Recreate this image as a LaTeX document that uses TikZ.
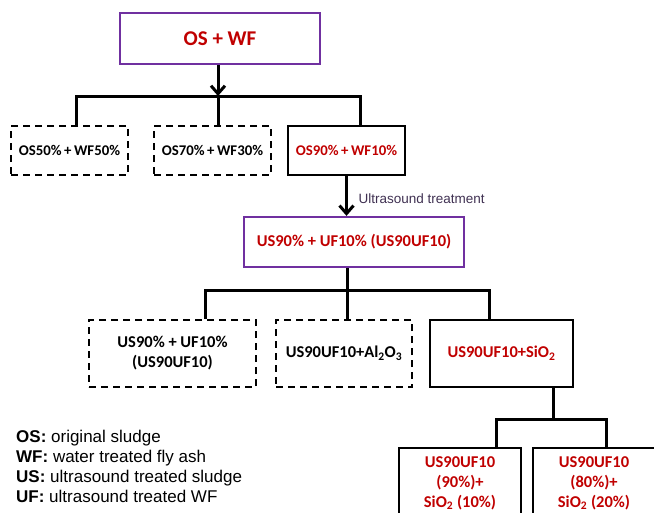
\documentclass[tikz,border=0pt]{standalone}
\usepackage{fontspec}
\setmainfont{Carlito}
\newfontfamily\legfont{Liberation Sans}
\usetikzlibrary{arrows.meta}
\definecolor{mixRed}{HTML}{C00000}
\definecolor{mixPurple}{HTML}{7030A0}
\definecolor{mixNote}{HTML}{403152}
\tikzset{
  >={Straight Barb[length=8pt,width=14pt]},
  mbox/.style={draw=black, line width=2.3pt, align=center, inner sep=2pt,
              font=\bfseries\fontsize{16.5}{20}\selectfont},
  dbox/.style={mbox, dash pattern=on 7pt off 5pt},
  hbox/.style={mbox, text=mixRed},
  pbox/.style={mbox, draw=mixPurple, text=mixRed},
  link/.style={draw=black, line width=3pt},
  note/.style={font=\legfont\fontsize{13.5}{15}\selectfont, text=mixNote},
}
\begin{document}
\begin{tikzpicture}[x=1pt,y=-1pt]
  \useasboundingbox (0,0) rectangle (654,512);
  \clip (0,0) rectangle (654,512);
  % first blending step
  \node[pbox, minimum width=200pt, minimum height=51pt,
        font=\bfseries\fontsize{21}{24}\selectfont] (osWF) at (220,38.5) {OS + WF};
  \foreach \id/\x/\txt/\sty in {os50/69.5/{OS50\%\,+\,WF50\%}/dbox,
                                os70/212.5/{OS70\%\,+\,WF30\%}/dbox,
                                os90/346.5/{OS90\%\,+\,WF10\%}/hbox}{
    \node[\sty, minimum width=117pt, minimum height=49pt,
          font=\bfseries\fontsize{14.8}{18}\selectfont] (\id) at (\x,150.5) {\txt};
  }
  \coordinate (j1) at (218,96);
  \draw[link,->] (osWF.south -| j1) -- (j1);
  \draw[link] ([xshift=6.5pt]os50.north) |- ([xshift=13.5pt]os90.north |- j1)
              -- ([xshift=13.5pt]os90.north);
  \draw[link] (j1) -- (j1 |- os70.north);
  % ultrasound step
  \node[pbox, minimum width=220pt, minimum height=50pt] (us90) at (354,242) {US90\% + UF10\% (US90UF10)};
  \draw[link,->] (os90.south) -- (os90.south |- us90.north);
  \node[note, anchor=west] (usLbl) at (355,199) {Ultrasound treatment};
  % additives
  \node[dbox, minimum width=167pt, minimum height=67pt] (usA) at (172.5,353.5) {US90\% + UF10\%\\(US90UF10)};
  \node[dbox, minimum width=136pt, minimum height=67pt] (usAl) at (344,353.5) {US90UF10+Al\textsubscript{2}O\textsubscript{3}};
  \node[hbox, minimum width=143pt, minimum height=67pt] (usSi) at (501.5,353.5) {US90UF10+SiO\textsubscript{2}};
  \coordinate (j2) at (347,290);
  \draw[link] (us90.south -| j2) -- (j2);
  \draw[link] ([xshift=32.5pt]usA.north) |- (j2) -| ([xshift=-12.5pt]usSi.north);
  \draw[link] (j2) -- (j2 |- usAl.north);
  % silica ratios
  \node[hbox, minimum width=122pt, minimum height=70pt] (si10) at (460,483) {US90UF10\\(90\%)+\\SiO\textsubscript{2} (10\%)};
  \node[hbox, minimum width=122pt, minimum height=70pt] (si20) at (594,483) {US90UF10\\(80\%)+\\SiO\textsubscript{2} (20\%)};
  \coordinate (j3) at (553,419);
  \draw[link] ([xshift=51.5pt]usSi.south) -- (j3);
  \draw[link] ([xshift=36pt]si10.north) |- (j3) -| ([xshift=12pt]si20.north);
  % legend
  \node[anchor=north west, align=left, inner sep=0pt,
        font=\legfont\fontsize{17}{20}\selectfont] (leg) at (16,430)
       {\textbf{OS:} original sludge\\
        \textbf{WF:} water treated fly ash\\
        \textbf{US:} ultrasound treated sludge\\
        \textbf{UF:} ultrasound treated WF};
\end{tikzpicture}
\end{document}
